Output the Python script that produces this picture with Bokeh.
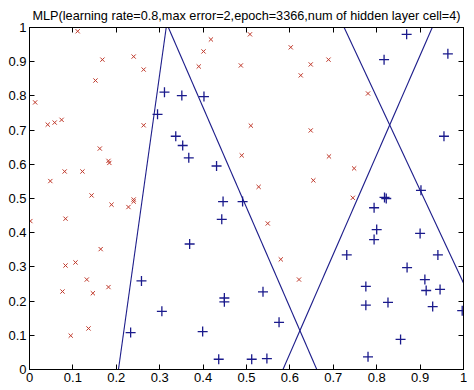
from bokeh.plotting import figure
from bokeh.models import Range1d, FixedTicker, LinearAxis
from bokeh.embed import file_html
from bokeh.resources import INLINE

title_text = "MLP(learning rate=0.8,max error=2,epoch=3366,num of hidden layer cell=4)"

tick_values = [0, 0.1, 0.2, 0.3, 0.4, 0.5, 0.6, 0.7, 0.8, 0.9, 1]
tick_labels = ["0", "0.1", "0.2", "0.3", "0.4", "0.5", "0.6", "0.7", "0.8", "0.9", "1"]

# class 1 (red x)
red_x = [0.111, 0.168, 0.240, 0.263, 0.152, 0.013, 0.042, 0.058, 0.074, 0.263,
         0.162, 0.182, 0.184, 0.081, 0.122, 0.048, 0.143, 0.240,
         0.418, 0.508, 0.401, 0.602, 0.390, 0.487, 0.648, 0.625, 0.510, 0.648,
         0.489, 0.654, 0.528,
         0.689, 0.780, 0.690, 0.748, 0.745,
         0.189, 0.240, 0.228, 0.002, 0.083, 0.164, 0.083, 0.106, 0.132, 0.076,
         0.146, 0.182, 0.095, 0.136,
         0.549, 0.579, 0.621]
red_y = [0.989, 0.906, 0.915, 0.877, 0.845, 0.781, 0.716, 0.722, 0.730, 0.714,
         0.646, 0.610, 0.604, 0.579, 0.579, 0.551, 0.509, 0.497,
         0.965, 0.980, 0.930, 0.942, 0.886, 0.889, 0.892, 0.860, 0.713, 0.699,
         0.626, 0.553, 0.534,
         0.906, 0.807, 0.623, 0.588, 0.502,
         0.482, 0.491, 0.475, 0.434, 0.441, 0.352, 0.304, 0.313, 0.263, 0.228,
         0.223, 0.241, 0.099, 0.120,
         0.427, 0.322, 0.263]

# class 2 (blue +)
blue_x = [0.311, 0.295, 0.351, 0.402, 0.337, 0.353, 0.367, 0.431,
          0.869, 0.817, 0.964, 0.955, 0.902, 0.818, 0.822,
          0.258, 0.305, 0.233,
          0.446, 0.491, 0.443, 0.369, 0.538, 0.449, 0.449, 0.575, 0.399, 0.436,
          0.512, 0.547,
          0.794, 0.800, 0.794, 0.900, 0.731, 0.941, 0.870, 0.911, 0.775, 0.914,
          0.946, 0.775, 0.826, 0.929, 0.997, 0.855, 0.780]
blue_y = [0.811, 0.746, 0.801, 0.798, 0.682, 0.655, 0.619, 0.595,
          0.980, 0.906, 0.923, 0.682, 0.524, 0.503, 0.500,
          0.259, 0.170, 0.108,
          0.491, 0.491, 0.439, 0.367, 0.227, 0.209, 0.198, 0.138, 0.111, 0.030,
          0.030, 0.032,
          0.473, 0.409, 0.380, 0.398, 0.335, 0.335, 0.298, 0.263, 0.243, 0.231,
          0.234, 0.188, 0.196, 0.184, 0.172, 0.088, 0.037]

# hidden-layer decision boundaries (endpoints)
bound_x0 = [0.205, 0.320, 0.584, 0.725]
bound_y0 = [0.0, 1.0, 0.0, 1.0]
bound_x1 = [0.315, 0.662, 0.928, 1.0]
bound_y1 = [1.0, 0.0, 1.0, 0.253]

FONT = "Liberation Sans"

p = figure(frame_width=434, frame_height=342, output_backend="svg",
           toolbar_location=None,
           x_range=Range1d(0, 1), y_range=Range1d(0, 1),
           min_border_left=29, min_border_right=4, min_border_top=27,
           min_border_bottom=16, title=title_text)
p.title.align = "center"
p.title.text_font = FONT
p.title.text_font_size = "12.7px"
p.title.text_font_style = "normal"
p.title.text_color = "black"
p.title.standoff = 10
p.grid.visible = False
p.outline_line_color = "black"
p.outline_line_width = 1
p.background_fill_color = "white"
p.border_fill_color = "white"

for ax in [p.xaxis[0], p.yaxis[0]]:
    ax.ticker = FixedTicker(ticks=tick_values)
    ax.major_label_overrides = {v: s for v, s in zip(tick_values, tick_labels)}
    ax.major_tick_in = 5
    ax.major_tick_out = 0
    ax.minor_tick_in = 0
    ax.minor_tick_out = 0
    ax.major_label_text_font = FONT
    ax.major_label_text_font_size = "13px"
    ax.major_label_text_color = "black"
    ax.axis_line_color = "black"
    ax.major_tick_line_color = "black"
    ax.major_label_standoff = 3

for loc in ["right", "above"]:
    ax = LinearAxis(ticker=FixedTicker(ticks=tick_values))
    ax.major_label_overrides = {v: "" for v in tick_values}
    ax.major_tick_in = 5
    ax.major_tick_out = 0
    ax.minor_tick_in = 0
    ax.minor_tick_out = 0
    ax.major_label_standoff = 0
    ax.axis_line_color = "black"
    ax.major_tick_line_color = "black"
    p.add_layout(ax, loc)

p.segment(x0=bound_x0, y0=bound_y0, x1=bound_x1, y1=bound_y1,
          line_color="#1c1c8a", line_width=1.1)

p.scatter(x=red_x, y=red_y, marker="x", size=6, line_color="#c0392b",
          line_width=1)
p.scatter(x=blue_x, y=blue_y, marker="cross", size=10, line_color="#1a1a8c",
          line_width=1.3)

open("out.html", "w").write(file_html(p, INLINE))
